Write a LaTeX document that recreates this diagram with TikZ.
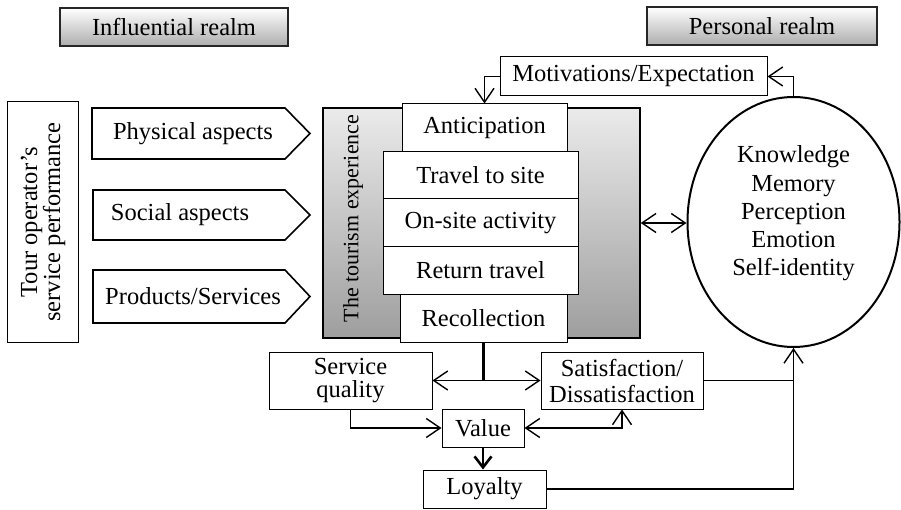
\documentclass[tikz,border=0pt]{standalone}
\usepackage{fontspec}
\setmainfont{Liberation Serif}
\usetikzlibrary{arrows.meta,shapes.geometric,calc}
\begin{document}
\begin{tikzpicture}[x=1pt,y=-1pt,
  every node/.style={font=\fontsize{24.5}{28.3}\selectfont, inner sep=0pt},
  box/.style={draw, line width=1pt, fill=white, align=center},
  realm/.style={draw=black!85, line width=1.5pt, top color=white, bottom color=black!32, minimum width=228pt, minimum height=38pt},
  pent/.style={draw, line width=1.6pt},
  arr/.style={line width=1.4pt, -{Straight Barb[length=14pt,width=19pt]}},
  darr/.style={line width=1.4pt, {Straight Barb[length=14pt,width=19pt]}-{Straight Barb[length=14pt,width=19pt]}},
  heavy/.style={line width=2.6pt}
]
\useasboundingbox (0,0) rectangle (901,510);

% realms
\node[realm] (infl) at (174,27) {Influential realm};
\node[realm, minimum width=230pt] (pers) at (762,26) {Personal realm};

% tour operator box
\node[box, rotate=90, minimum width=240pt, minimum height=71pt, font=\fontsize{24.5}{23}\selectfont] (tour) at (43,222) {Tour operator’s\\service performance};

% pentagon arrows
\draw[pent] (92,108) -- (285,108) -- (310,133.5) -- (285,159) -- (92,159) -- cycle;
\node (phys) at (193,133.5) {Physical aspects};
\draw[pent] (93,190) -- (285,190) -- (310,215) -- (285,240) -- (93,240) -- cycle;
\node (soc) at (180,215) {Social aspects};
\draw[pent] (93,270) -- (285,270) -- (310,296.5) -- (285,323) -- (93,323) -- cycle;
\node (prod) at (193,296.5) {Products/Services};

% tourism experience
\node[draw, line width=1.5pt, top color=black!8, bottom color=black!38, minimum width=317pt, minimum height=230pt] (exp) at (481.5,223) {};
\node[rotate=90, font=\fontsize{22}{26}\selectfont] (exptxt) at (353,218.5) {The tourism experience};

\node[box, minimum width=165pt, minimum height=48pt] (ant) at (484.5,128) {Anticipation};
\node[box, minimum width=195pt, minimum height=47pt] (trav) at (480.5,175.5) {Travel to site};
\node[box, minimum width=195pt, minimum height=48pt] (onsite) at (480.5,223) {On-site activity};
\node[box, minimum width=195pt, minimum height=47pt] (ret) at (480.5,270.5) {Return travel};
\node[box, minimum width=167pt, minimum height=48pt] (rec) at (483.5,318) {Recollection};

% motivations
\node[box, minimum width=267pt, minimum height=39pt] (mot) at (633.5,76.5) {Motivations/Expectation};

% personal circle
\node[draw, ellipse, line width=2pt, minimum width=212pt, minimum height=250pt] (circ) at (793.5,222) {};
\node[align=center] (circtxt) at (793.5,213.5) {Knowledge\\Memory\\Perception\\Emotion\\Self-identity};

% lower boxes
\node[box, minimum width=163pt, minimum height=57pt, font=\fontsize{24.5}{23}\selectfont] (sq) at (350.5,380.5) {Service\\quality};
\node[box, minimum width=162pt, minimum height=57pt, font=\fontsize{24.5}{26}\selectfont] (sat) at (622,380.5) {Satisfaction/\\Dissatisfaction};
\node[box, minimum width=82pt, minimum height=38pt] (val) at (483,428) {Value};
\node[box, minimum width=123pt, minimum height=38pt] (loy) at (484.5,489) {Loyalty};

% connectors
\draw[arr] (mot.west) -| (ant.north);
\draw[arr] (circ.north) |- (mot.east);
\draw[darr] (exp.east) -- (exp.east -| circ.west);
\coordinate (junc) at (rec.south |- sq.east);
\draw[heavy] (rec.south) -- (junc);
\draw[darr] (sq.east) -- (sat.west);
\draw[arr] (sq.south) |- (val.west);
\draw[darr] (val.east) -| (sat.south);
\draw[heavy, -{Straight Barb[length=11pt,width=17pt]}] (val.south) -- (val.south |- loy.north);
\draw[line width=1.4pt] (sat.east) -| (circ.south);
\draw[arr] (loy.east) -| (circ.south);
\end{tikzpicture}
\end{document}
